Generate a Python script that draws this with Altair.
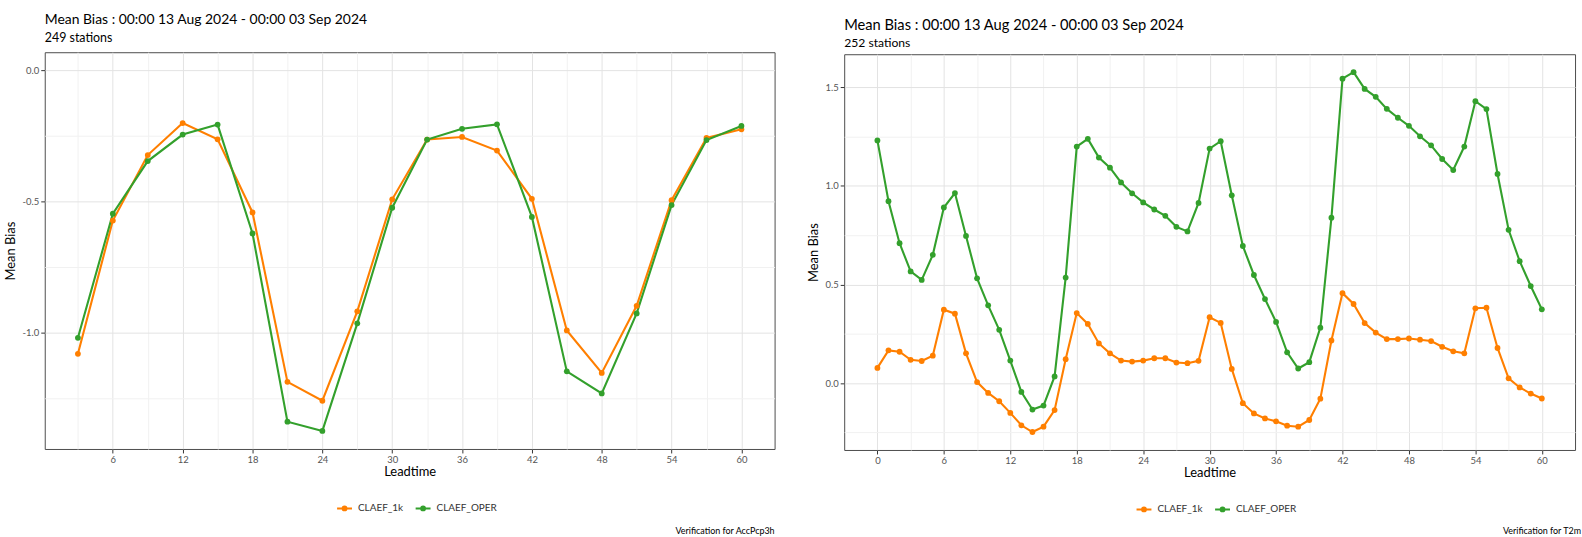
import altair as alt
import pandas as pd

MODELS = ["CLAEF_1k", "CLAEF_OPER"]
COLORS = ["#FF7F00", "#33A02C"]

# ---- left panel: AccPcp3h ----
lead_left = [3, 6, 9, 12, 15, 18, 21, 24, 27, 30, 33, 36, 39, 42, 45, 48, 51, 54, 57, 60]
left_1k = [-1.081, -0.573, -0.323, -0.201, -0.263, -0.542, -1.188, -1.260, -0.919, -0.492,
           -0.264, -0.254, -0.306, -0.490, -0.992, -1.154, -0.898, -0.495, -0.258, -0.225]
left_oper = [-1.020, -0.547, -0.346, -0.245, -0.207, -0.622, -1.340, -1.375, -0.965, -0.524,
             -0.264, -0.223, -0.206, -0.559, -1.148, -1.232, -0.927, -0.514, -0.266, -0.212]

# ---- right panel: T2m ----
lead_right = [0, 1, 2, 3, 4, 5, 6, 7, 8, 9, 10, 11, 12, 13, 14, 15, 16, 17, 18, 19, 20,
              21, 22, 23, 24, 25, 26, 27, 28, 29, 30, 31, 32, 33, 34, 35, 36, 37, 38, 39, 40,
              41, 42, 43, 44, 45, 46, 47, 48, 49, 50, 51, 52, 53, 54, 55, 56, 57, 58, 59, 60]
right_1k = [0.077, 0.166, 0.159, 0.118, 0.112, 0.139, 0.372, 0.352, 0.151, 0.005, -0.050,
            -0.092, -0.151, -0.214, -0.248, -0.221, -0.137, 0.121, 0.355, 0.300, 0.201,
            0.151, 0.114, 0.109, 0.114, 0.126, 0.126, 0.104, 0.101, 0.113, 0.334,
            0.305, 0.072, -0.102, -0.154, -0.179, -0.194, -0.216, -0.221, -0.187, -0.079,
            0.216, 0.456, 0.401, 0.304, 0.256, 0.223, 0.223, 0.226, 0.220, 0.213,
            0.184, 0.161, 0.151, 0.379, 0.382, 0.178, 0.024, -0.022, -0.053, -0.078]
right_oper = [1.230, 0.922, 0.709, 0.566, 0.523, 0.650, 0.890, 0.963, 0.746, 0.531, 0.394,
              0.270, 0.114, -0.045, -0.134, -0.114, 0.034, 0.535, 1.199, 1.238, 1.143,
              1.092, 1.017, 0.962, 0.916, 0.880, 0.848, 0.792, 0.769, 0.913, 1.189,
              1.226, 0.952, 0.695, 0.548, 0.426, 0.310, 0.156, 0.074, 0.106, 0.281,
              0.838, 1.543, 1.576, 1.491, 1.451, 1.390, 1.345, 1.304, 1.251, 1.205,
              1.136, 1.080, 1.199, 1.429, 1.389, 1.060, 0.777, 0.618, 0.492, 0.374]

TITLE = "Mean Bias : 00:00 13 Aug 2024 - 00:00 03 Sep 2024"

MAJOR = "#E3E3E3"
MINOR = "#F1F1F1"
TICK = "#333333"
NOTICK = "rgba(0,0,0,0)"

SYMBOL = ("M-1,0L1,0"
          "M0.26,0A0.26,0.26,0,1,1,-0.26,0A0.26,0.26,0,1,1,0.26,0"
          "M0.14,0A0.14,0.14,0,1,1,-0.14,0A0.14,0.14,0,1,1,0.14,0"
          "M0.04,0A0.04,0.04,0,1,1,-0.04,0A0.04,0.04,0,1,1,0.04,0")


def spacer(h):
    return alt.Chart(pd.DataFrame({"s": [0]})).mark_rule(opacity=0).encode(
        x=alt.value(0), y=alt.value(0), y2=alt.value(h)
    ).properties(width=1, height=h, view=alt.ViewBackground(strokeOpacity=0))


def panel(lead, s1k, soper, xdom, ydom, xvals, yvals, subtitle, caption,
          w, h, tsize, ssize, spad, toffset, legend_y, cap_x, cap_y):
    df = pd.DataFrame({
        "Leadtime": lead + lead,
        "bias": s1k + soper,
        "model": [MODELS[0]] * len(lead) + [MODELS[1]] * len(lead),
    })
    xtest = "datum.value % 6 === 0"
    ytest = "abs(datum.value*2 - round(datum.value*2)) < 0.000001"
    x = alt.X("Leadtime:Q",
              scale=alt.Scale(domain=xdom, nice=False, zero=False),
              axis=alt.Axis(values=xvals, title="Leadtime",
                            labelExpr="datum.value % 6 === 0 ? datum.label : ''",
                            labelOverlap=False, labelFlush=False,
                            gridColor={"condition": {"test": xtest, "value": MAJOR}, "value": MINOR},
                            tickColor={"condition": {"test": xtest, "value": TICK}, "value": NOTICK}))
    y = alt.Y("bias:Q",
              scale=alt.Scale(domain=ydom, nice=False, zero=False),
              axis=alt.Axis(values=yvals, title="Mean Bias",
                            labelExpr=ytest + " ? replace(format(datum.value, '.1f'), '\u2212', '-') : ''",
                            labelOverlap=False, labelFlush=False,
                            gridColor={"condition": {"test": ytest, "value": MAJOR}, "value": MINOR},
                            tickColor={"condition": {"test": ytest, "value": TICK}, "value": NOTICK}))
    cscale = alt.Scale(domain=MODELS, range=COLORS)
    base = alt.Chart(df)
    lines = base.mark_line(strokeWidth=2.1).encode(
        x=x, y=y,
        color=alt.Color("model:N", scale=cscale,
                        legend=alt.Legend(title=None, orient="none", legendX=293, legendY=legend_y,
                                          direction="horizontal", symbolType=SYMBOL, symbolSize=225,
                                          symbolStrokeWidth=2.0, labelFont="Lato", labelFontSize=10,
                                          labelColor="#333333", columnPadding=8, labelOffset=5,
                                          padding=0)),
        detail="model:N",
    )
    points = base.mark_point(filled=True, size=34, opacity=1).encode(
        x=x, y=y,
        color=alt.Color("model:N", scale=cscale, legend=None),
    )
    cap = alt.Chart(pd.DataFrame({"caption": [caption]})).mark_text(
        align="right", baseline="middle", font="Lato", fontSize=9, color="#000000"
    ).encode(x=alt.value(cap_x), y=alt.value(cap_y), text="caption:N")
    return alt.layer(lines, points, cap).properties(
        width=w, height=h,
        title=alt.TitleParams(text=TITLE, subtitle=subtitle, anchor="start", frame="group",
                              font="Lato", fontSize=tsize, fontWeight="normal", color="#000000",
                              subtitleFont="Lato", subtitleFontSize=ssize, subtitleColor="#000000",
                              subtitlePadding=spad, offset=toffset),
    )


left = panel(lead_left, left_1k, left_oper, [0.15, 62.85], [-1.444, 0.069],
             [3, 6, 9, 12, 15, 18, 21, 24, 27, 30, 33, 36, 39, 42, 45, 48, 51, 54, 57, 60],
             [-1.25, -1.0, -0.75, -0.5, -0.25, 0.0],
             "249 stations", "Verification for AccPcp3h",
             734, 399, 14, 12.5, 5, 8, 491, 734, 482)

right = panel(lead_right, right_1k, right_oper, [-3, 63], [-0.339, 1.667],
              [0, 3, 6, 9, 12, 15, 18, 21, 24, 27, 30, 33, 36, 39, 42, 45, 48, 51, 54, 57, 60],
              [-0.25, 0.0, 0.25, 0.5, 0.75, 1.0, 1.25, 1.5],
              "252 stations", "Verification for T2m",
              735, 398, 14.75, 12.2, 4, 5, 492, 741, 480)

left_col = alt.vconcat(spacer(1), left, spacing=0)
right_col = alt.vconcat(spacer(6), right, spacing=0)

chart = alt.hconcat(left_col, right_col, spacing=31).resolve_scale(
    color="independent"
).resolve_legend(
    color="independent"
).properties(
    padding={"left": 3, "top": 10, "right": 0, "bottom": 0},
    background="white",
).configure_view(
    stroke="#4D4D4D", strokeWidth=1
).configure_axis(
    labelFont="Lato", titleFont="Lato", labelFontSize=9.5, labelColor="#555555",
    titleFontSize=13, titleColor="#000000", titleFontWeight="normal",
    tickSize=4, tickWidth=1, gridWidth=1, domain=False,
).configure_axisY(
    titlePadding=5, labelPadding=2
).configure_axisX(
    titlePadding=1, labelPadding=2
)

chart.save("out.html", embed_options={"renderer": "svg", "actions": False})
